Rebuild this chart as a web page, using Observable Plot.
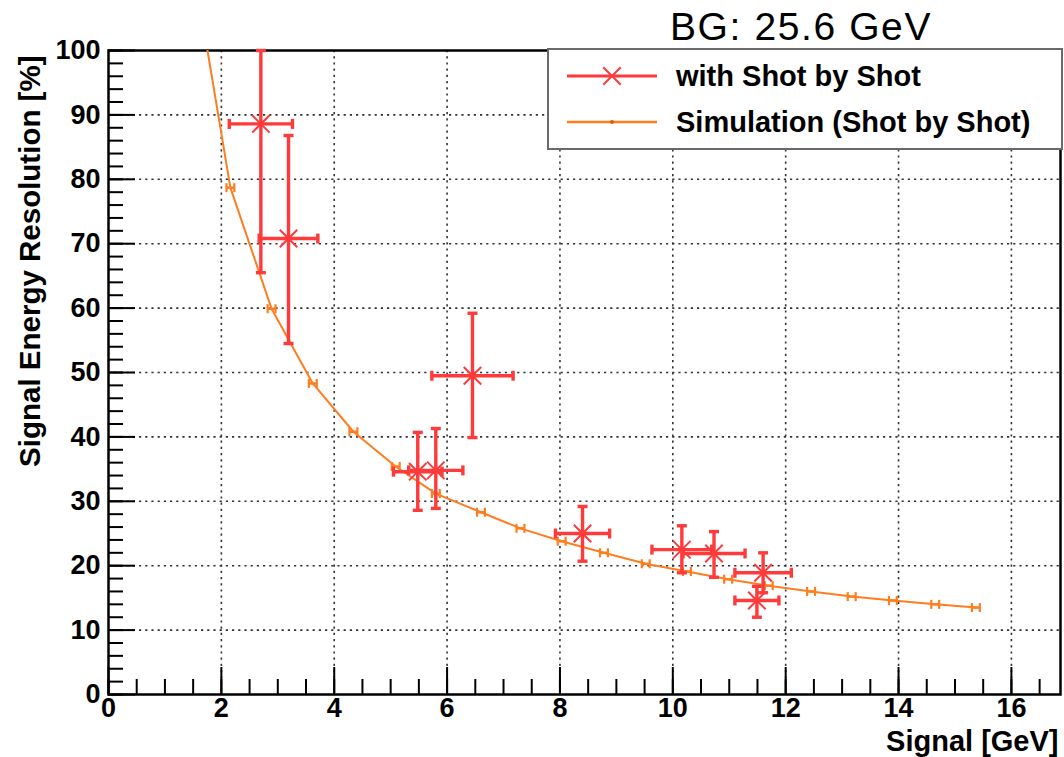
<!DOCTYPE html>
<html><head><meta charset="utf-8">
<script src="https://cdn.jsdelivr.net/npm/d3@7"></script>
<script src="https://cdn.jsdelivr.net/npm/@observablehq/plot@0.6"></script>
<style>
html,body{margin:0;padding:0;background:#fff;}
#wrap{position:relative;width:1064px;height:757px;overflow:hidden;background:#fff;}
#chart{position:absolute;left:0;top:0;}
#title{position:absolute;left:670px;top:7px;font:39px "Liberation Sans",Arial,sans-serif;letter-spacing:1.6px;line-height:1;color:#000;white-space:nowrap;}
#legend{position:absolute;left:547px;top:48px;width:512px;height:98px;border:2px solid #6a6a6a;background:#fff;}
</style></head>
<body>
<div id="wrap"><div id="chart"></div><div id="title">BG: 25.6 GeV</div><div id="legend"></div></div>
<script>
// ---- data ----
const seriesNames = ["with Shot by Shot", "Simulation (Shot by Shot)"];
const titleText = "BG: 25.6 GeV";
const xTitle = "Signal [GeV]";
const yTitle = "Signal Energy Resolution [%]";

const measX        = [2.70, 3.19, 6.45, 5.48, 5.80, 8.40, 10.16, 10.73, 11.60, 11.49];
const measY        = [88.6, 70.8, 49.5, 34.6, 34.8, 25.0, 22.5, 21.9, 18.9, 14.6];
const measXErr     = [0.56, 0.52, 0.72, 0.43, 0.48, 0.48, 0.53, 0.55, 0.50, 0.39];
const measYErrUp   = [11.4, 16.0, 9.7, 6.1, 6.5, 4.2, 3.7, 3.4, 3.1, 2.2];
const measYErrDown = [23.1, 16.3, 9.6, 6.0, 5.9, 4.3, 3.6, 3.7, 3.1, 2.6];

const simX = [1.43, 2.16, 2.89, 3.62, 4.34, 5.09, 5.80, 6.60, 7.30, 8.03, 8.78, 9.52, 10.25, 10.98, 11.70, 12.45, 13.17, 13.90, 14.65, 15.37];
const simY = [117, 78.7, 59.9, 48.3, 40.8, 35.4, 31.2, 28.3, 25.8, 23.8, 22.0, 20.3, 19.1, 17.9, 16.9, 16.0, 15.2, 14.6, 14.0, 13.5];
const simXErr = 0.07;

const xTicks = [0, 2, 4, 6, 8, 10, 12, 14, 16];
const yTicks = [0, 10, 20, 30, 40, 50, 60, 70, 80, 90, 100];
const xMinor = d3.range(0, 16.9, 0.5);
const yMinor = d3.range(0, 100.1, 2);

// ---- build ----
const meas = measX.map((x, i) => ({x, y: measY[i], xe: measXErr[i], yu: measYErrUp[i], yd: measYErrDown[i]}));
const sim = simX.map((x, i) => ({x, y: simY[i], xe: simXErr}));

const red = "#ff3a3a";
const orange = "#ff7d1f";
const hcap = {draw(ctx, size) { const r = Math.sqrt(size / Math.PI); ctx.moveTo(-r, 0); ctx.lineTo(r, 0); }};
const vcap = {draw(ctx, size) { const r = Math.sqrt(size / Math.PI); ctx.moveTo(0, -r); ctx.lineTo(0, r); }};
const font = "Liberation Sans, Arial, Helvetica, sans-serif";

const plot = Plot.plot({
  width: 1064,
  height: 757,
  marginLeft: 108,
  marginRight: 4,
  marginTop: 50,
  marginBottom: 63,
  style: {fontFamily: font, fontWeight: "bold", background: "#fff", color: "#000", overflow: "visible"},
  x: {domain: [0, 16.87]},
  y: {domain: [0, 100]},
  marks: [
    Plot.gridX({ticks: xTicks.slice(1), stroke: "#333", strokeOpacity: 1, strokeWidth: 1.6, strokeDasharray: "2.2,4"}),
    Plot.gridY({ticks: yTicks.slice(1, -1), stroke: "#333", strokeOpacity: 1, strokeWidth: 1.6, strokeDasharray: "2.2,4"}),
    Plot.axisX({ticks: xMinor, tickSize: -15, tickFormat: () => "", strokeWidth: 2, label: null}),
    Plot.axisX({ticks: xTicks, tickSize: -27, tickFormat: () => "", strokeWidth: 2, label: null}),
    Plot.axisX({ticks: xTicks, tickSize: 0, tickPadding: 3, fontSize: 27, fontWeight: "bold", label: null}),
    Plot.axisY({ticks: yMinor, tickSize: -15, tickFormat: () => "", strokeWidth: 2, label: null}),
    Plot.axisY({ticks: yTicks, tickSize: -27, tickFormat: () => "", strokeWidth: 2, label: null}),
    Plot.axisY({ticks: yTicks, tickSize: 0, tickPadding: 8, fontSize: 27, fontWeight: "bold", label: null}),
    Plot.frame({stroke: "#000", strokeWidth: 2.5}),
    Plot.text([xTitle], {text: d => d, frameAnchor: "bottom-right", dy: 47, dx: -2, textAnchor: "end", lineAnchor: "middle", fontSize: 29, fontWeight: "bold"}),
    Plot.text([yTitle], {text: d => d, frameAnchor: "top-left", dx: -78, dy: 5, rotate: -90, textAnchor: "end", lineAnchor: "middle", fontSize: 29.5, fontWeight: "bold"}),
    // simulation
    Plot.line(sim, {x: "x", y: "y", stroke: orange, strokeWidth: 2, clip: true}),
    Plot.link(sim, {x1: d => d.x - d.xe, x2: d => d.x + d.xe, y1: "y", y2: "y", stroke: orange, strokeWidth: 2.5, clip: true}),
    Plot.dot(sim, {x: d => d.x - d.xe, y: "y", symbol: vcap, r: 4.5, stroke: orange, strokeWidth: 2.2, fill: "none", clip: true}),
    Plot.dot(sim, {x: d => d.x + d.xe, y: "y", symbol: vcap, r: 4.5, stroke: orange, strokeWidth: 2.2, fill: "none", clip: true}),
    // measurement
    Plot.link(meas, {x1: d => d.x - d.xe, x2: d => d.x + d.xe, y1: "y", y2: "y", stroke: red, strokeWidth: 3.4, clip: true}),
    Plot.link(meas, {x1: "x", x2: "x", y1: d => d.y - d.yd, y2: d => d.y + d.yu, stroke: red, strokeWidth: 3.4, clip: true}),
    Plot.dot(meas, {x: d => d.x - d.xe, y: "y", symbol: vcap, r: 5, stroke: red, strokeWidth: 3.4, fill: "none", clip: true}),
    Plot.dot(meas, {x: d => d.x + d.xe, y: "y", symbol: vcap, r: 5, stroke: red, strokeWidth: 3.4, fill: "none", clip: true}),
    Plot.dot(meas, {x: "x", y: d => d.y + d.yu, symbol: hcap, r: 5, stroke: red, strokeWidth: 3.4, fill: "none"}),
    Plot.dot(meas, {x: "x", y: d => d.y - d.yd, symbol: hcap, r: 5, stroke: red, strokeWidth: 3.4, fill: "none", clip: true}),
    Plot.dot(meas, {x: "x", y: "y", symbol: "times", r: 8, stroke: red, strokeWidth: 2, fill: "none"})
  ]
});
document.getElementById("chart").appendChild(plot);

// legend
const lg = d3.select("#legend").append("svg").attr("width", 512).attr("height", 98).style("display", "block");
const rows = [
  {name: seriesNames[0], color: red, y: 26, w: 3.2},
  {name: seriesNames[1], color: orange, y: 72, w: 2.5}
];
rows.forEach((r, i) => {
  lg.append("line").attr("x1", 18).attr("x2", 108).attr("y1", r.y).attr("y2", r.y).attr("stroke", r.color).attr("stroke-width", r.w);
  if (i === 0) {
    lg.append("path").attr("d", d3.symbol(d3.symbolTimes, 8 * 8 * Math.PI)()).attr("transform", `translate(63,${r.y})`).attr("stroke", r.color).attr("stroke-width", 2).attr("fill", "none");
  } else {
    lg.append("circle").attr("cx", 63).attr("cy", r.y).attr("r", 2).attr("fill", "#e85a00");
  }
  lg.append("text").attr("x", 127).attr("y", r.y).attr("dy", "0.36em").attr("font-family", font).attr("font-weight", "bold").attr("font-size", 29).attr("fill", "#000").text(r.name);
});
</script>
</body></html>
